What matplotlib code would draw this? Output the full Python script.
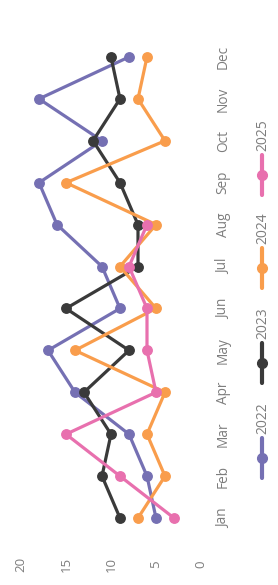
import matplotlib
matplotlib.use("Agg")
import matplotlib.pyplot as plt
from matplotlib.lines import Line2D

months = ["Jan", "Feb", "Mar", "Apr", "May", "Jun",
          "Jul", "Aug", "Sep", "Oct", "Nov", "Dec"]
value_ticks = [0, 5, 10, 15, 20]

v2022 = [5, 6, 8, 14, 17, 9, 11, 16, 18, 11, 18, 8]
v2023 = [9, 11, 10, 13, 8, 15, 7, 7, 9, 12, 9, 10]
v2024 = [7, 4, 6, 4, 14, 5, 9, 5, 15, 4, 7, 6]
v2025 = [3, 9, 15, 5, 6, 6, 8, 6]

series = [
    ("2022", v2022, "#7570B3"),
    ("2023", v2023, "#3A3A3A"),
    ("2024", v2024, "#F99D4C"),
    ("2025", v2025, "#E870AE"),
]

W, H = 278, 585
TEXT = "#7d7d7d"
plt.rcParams["font.family"] = ["Open Sans", "DejaVu Sans"]


def fx(x):
    return x / W


def fy(y_top):
    return 1 - y_top / H


fig = plt.figure(figsize=(W / 100, H / 100), dpi=100)
# chart is drawn rotated: value runs right-to-left, months bottom-to-top
ax = fig.add_axes([fx(21), fy(539), fx(201) - fx(21), fy(36) - fy(539)])

for name, vals, color in series:
    ax.plot(vals, range(len(vals)), color=color, lw=2.3,
            marker="o", ms=6.8, solid_capstyle="round", clip_on=False)

ax.set_xlim(20, 0)
ax.set_ylim(-0.5, 11.5)
ax.set_xticks(value_ticks)
ax.set_xticklabels([str(v) for v in value_ticks])
ax.set_yticks(range(len(months)))
ax.set_yticklabels(months)
ax.yaxis.tick_right()
for s in ax.spines.values():
    s.set_visible(False)
ax.tick_params(axis="x", length=0, pad=18, labelsize=9.5, labelcolor=TEXT)
ax.tick_params(axis="y", length=0, pad=16, labelsize=9.8, labelcolor=TEXT)
plt.setp(ax.get_xticklabels(), rotation=90, va="center", ha="center")
plt.setp(ax.get_yticklabels(), rotation=90, va="center", ha="center")

# legend, rotated like the rest
leg_marker_y = [458, 363, 268, 175]
for (name, vals, color), my in zip(series, leg_marker_y):
    fig.add_artist(Line2D([fx(262), fx(262)], [fy(my + 20), fy(my - 20)],
                          color=color, lw=3, solid_capstyle="round"))
    fig.add_artist(Line2D([fx(262)], [fy(my)], color=color, marker="o",
                          ms=7, ls="none"))
    fig.text(fx(263), fy(my - 40), name, rotation=90, ha="center",
             va="center", fontsize=10, color=TEXT)

fig.savefig("out.png", dpi=100)
